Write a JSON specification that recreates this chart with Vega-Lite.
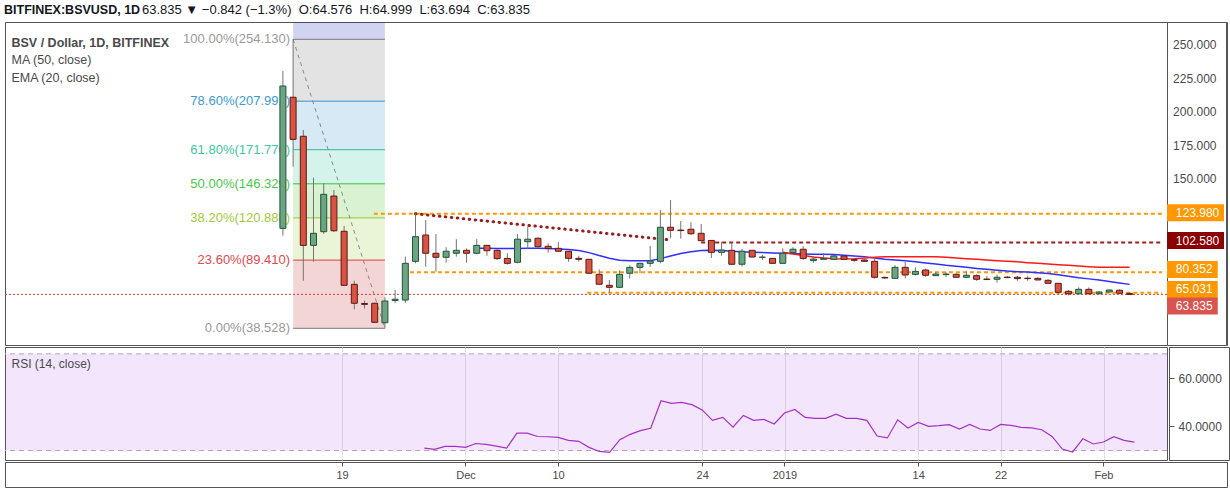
{
  "$schema": "https://vega.github.io/schema/vega-lite/v6.json",
  "background": "white",
  "padding": {"left": 4, "top": 3, "right": 2, "bottom": 2},
  "title": {"text": "BITFINEX:BSVUSD, 1D", "anchor": "start", "fontSize": 12.5, "fontWeight": "bold", "color": "#131722", "font": "Liberation Sans", "offset": -13},
  "config": {"view": {"stroke": "#555555", "strokeWidth": 1}, "font": "Liberation Sans"},
  "datasets": {
    "candles": [
      {"date":"2018-11-13","open":113.1,"high":230.5,"low":107.6,"close":219.3},
      {"date":"2018-11-14","open":210.9,"high":254.13,"low":159.1,"close":179.5},
      {"date":"2018-11-15","open":181.8,"high":186.5,"low":74.0,"close":100.4},
      {"date":"2018-11-16","open":100.4,"high":150.9,"low":88.2,"close":109.4},
      {"date":"2018-11-17","open":110.6,"high":146.7,"low":108.9,"close":138.5},
      {"date":"2018-11-18","open":137.2,"high":141.7,"low":110.4,"close":111.3},
      {"date":"2018-11-19","open":110.9,"high":114.9,"low":70.2,"close":70.6},
      {"date":"2018-11-20","open":71.3,"high":74.0,"low":52.7,"close":57.2},
      {"date":"2018-11-21","open":57.0,"high":59.1,"low":53.4,"close":56.4},
      {"date":"2018-11-22","open":57.2,"high":57.6,"low":42.6,"close":43.0},
      {"date":"2018-11-23","open":42.7,"high":61.6,"low":38.528,"close":58.9},
      {"date":"2018-11-24","open":59.3,"high":67.1,"low":57.6,"close":60.2},
      {"date":"2018-11-25","open":59.6,"high":92.0,"low":57.6,"close":87.0},
      {"date":"2018-11-26","open":88.5,"high":123.98,"low":87.0,"close":106.9},
      {"date":"2018-11-27","open":108.1,"high":119.3,"low":84.5,"close":94.5},
      {"date":"2018-11-28","open":94.5,"high":108.9,"low":80.8,"close":91.5},
      {"date":"2018-11-29","open":91.5,"high":99.0,"low":87.5,"close":96.0},
      {"date":"2018-11-30","open":94.5,"high":105.0,"low":92.0,"close":96.7},
      {"date":"2018-12-01","open":96.7,"high":98.2,"low":87.5,"close":94.5},
      {"date":"2018-12-02","open":94.5,"high":105.1,"low":93.7,"close":100.4},
      {"date":"2018-12-03","open":100.4,"high":100.7,"low":92.7,"close":96.4},
      {"date":"2018-12-04","open":96.7,"high":97.5,"low":89.5,"close":90.5},
      {"date":"2018-12-05","open":90.7,"high":94.5,"low":86.0,"close":87.0},
      {"date":"2018-12-06","open":87.8,"high":108.9,"low":87.0,"close":105.0},
      {"date":"2018-12-07","open":103.1,"high":114.3,"low":97.5,"close":105.0},
      {"date":"2018-12-08","open":105.7,"high":106.4,"low":99.0,"close":99.4},
      {"date":"2018-12-09","open":99.7,"high":101.9,"low":95.0,"close":98.0},
      {"date":"2018-12-10","open":98.2,"high":102.9,"low":95.5,"close":96.0},
      {"date":"2018-12-11","open":96.0,"high":96.2,"low":88.2,"close":90.7},
      {"date":"2018-12-12","open":90.7,"high":92.7,"low":88.2,"close":90.0},
      {"date":"2018-12-13","open":90.0,"high":90.3,"low":79.3,"close":79.6},
      {"date":"2018-12-14","open":78.8,"high":82.5,"low":71.0,"close":71.4},
      {"date":"2018-12-15","open":70.6,"high":74.6,"low":65.03,"close":69.1},
      {"date":"2018-12-16","open":69.1,"high":81.8,"low":68.5,"close":78.8},
      {"date":"2018-12-17","open":79.6,"high":85.5,"low":75.8,"close":84.0},
      {"date":"2018-12-18","open":84.0,"high":87.5,"low":79.6,"close":87.0},
      {"date":"2018-12-19","open":87.0,"high":99.9,"low":84.5,"close":88.7},
      {"date":"2018-12-20","open":88.5,"high":126.8,"low":87.0,"close":113.9},
      {"date":"2018-12-21","open":113.9,"high":134.2,"low":105.7,"close":111.6},
      {"date":"2018-12-22","open":111.8,"high":118.6,"low":105.4,"close":111.4},
      {"date":"2018-12-23","open":112.4,"high":117.6,"low":108.1,"close":109.1},
      {"date":"2018-12-24","open":109.4,"high":116.3,"low":103.5,"close":103.9},
      {"date":"2018-12-25","open":104.1,"high":104.4,"low":91.0,"close":95.2},
      {"date":"2018-12-26","open":95.2,"high":103.1,"low":92.7,"close":96.9},
      {"date":"2018-12-27","open":96.7,"high":102.7,"low":86.0,"close":86.3},
      {"date":"2018-12-28","open":86.3,"high":97.7,"low":84.5,"close":96.0},
      {"date":"2018-12-29","open":96.7,"high":97.0,"low":91.5,"close":91.7},
      {"date":"2018-12-30","open":91.5,"high":93.4,"low":89.5,"close":91.6},
      {"date":"2018-12-31","open":90.7,"high":90.8,"low":86.8,"close":87.0},
      {"date":"2019-01-01","open":87.0,"high":98.2,"low":86.8,"close":94.5},
      {"date":"2019-01-02","open":95.0,"high":99.0,"low":94.8,"close":97.5},
      {"date":"2019-01-03","open":97.5,"high":99.9,"low":89.5,"close":90.7},
      {"date":"2019-01-04","open":89.0,"high":92.5,"low":87.5,"close":90.2},
      {"date":"2019-01-05","open":90.0,"high":94.5,"low":89.8,"close":90.7},
      {"date":"2019-01-06","open":90.0,"high":93.2,"low":89.8,"close":92.5},
      {"date":"2019-01-07","open":92.5,"high":93.0,"low":89.8,"close":90.0},
      {"date":"2019-01-08","open":89.7,"high":90.7,"low":88.2,"close":89.3},
      {"date":"2019-01-09","open":89.5,"high":90.0,"low":88.0,"close":88.5},
      {"date":"2019-01-10","open":88.5,"high":90.7,"low":75.5,"close":76.6},
      {"date":"2019-01-11","open":76.5,"high":77.0,"low":75.3,"close":76.1},
      {"date":"2019-01-12","open":75.8,"high":85.7,"low":75.5,"close":84.0},
      {"date":"2019-01-13","open":84.0,"high":88.2,"low":75.8,"close":78.3},
      {"date":"2019-01-14","open":78.8,"high":84.0,"low":78.0,"close":81.0},
      {"date":"2019-01-15","open":82.0,"high":83.0,"low":77.0,"close":78.1},
      {"date":"2019-01-16","open":77.8,"high":80.8,"low":77.5,"close":79.0},
      {"date":"2019-01-17","open":78.6,"high":80.3,"low":77.0,"close":79.0},
      {"date":"2019-01-18","open":78.8,"high":79.6,"low":76.3,"close":76.6},
      {"date":"2019-01-19","open":76.6,"high":81.0,"low":75.8,"close":78.1},
      {"date":"2019-01-20","open":77.8,"high":78.8,"low":74.0,"close":75.1},
      {"date":"2019-01-21","open":75.3,"high":77.5,"low":74.6,"close":74.9},
      {"date":"2019-01-22","open":75.1,"high":78.6,"low":72.6,"close":76.6},
      {"date":"2019-01-23","open":76.7,"high":77.5,"low":75.8,"close":76.4},
      {"date":"2019-01-24","open":76.6,"high":77.5,"low":74.0,"close":75.6},
      {"date":"2019-01-25","open":75.9,"high":77.7,"low":74.0,"close":75.6},
      {"date":"2019-01-26","open":75.8,"high":76.6,"low":74.4,"close":74.6},
      {"date":"2019-01-27","open":74.3,"high":75.3,"low":71.8,"close":72.1},
      {"date":"2019-01-28","open":72.1,"high":72.3,"low":64.3,"close":65.4},
      {"date":"2019-01-29","open":66.1,"high":67.1,"low":63.1,"close":64.3},
      {"date":"2019-01-30","open":64.3,"high":69.1,"low":63.8,"close":67.6},
      {"date":"2019-01-31","open":67.6,"high":69.1,"low":63.8,"close":64.3},
      {"date":"2019-02-01","open":64.3,"high":66.3,"low":64.0,"close":65.6},
      {"date":"2019-02-02","open":65.6,"high":67.5,"low":65.3,"close":67.1},
      {"date":"2019-02-03","open":66.9,"high":67.6,"low":64.0,"close":64.677},
      {"date":"2019-02-04","open":64.576,"high":64.999,"low":63.694,"close":63.835}
    ],
    "ema": [
      {"date":"2018-12-02","ema20":98.2},{"date":"2018-12-03","ema20":98.2},{"date":"2018-12-04","ema20":98.1},{"date":"2018-12-05","ema20":98.0},
      {"date":"2018-12-06","ema20":98.1},{"date":"2018-12-07","ema20":98.2},{"date":"2018-12-08","ema20":98.2},{"date":"2018-12-09","ema20":98.0},
      {"date":"2018-12-10","ema20":97.7},{"date":"2018-12-11","ema20":97.4},{"date":"2018-12-12","ema20":96.5},{"date":"2018-12-13","ema20":95.0},
      {"date":"2018-12-14","ema20":92.8},{"date":"2018-12-15","ema20":90.8},{"date":"2018-12-16","ema20":89.3},{"date":"2018-12-17","ema20":89.0},
      {"date":"2018-12-18","ema20":88.9},{"date":"2018-12-19","ema20":89.0},{"date":"2018-12-20","ema20":90.5},{"date":"2018-12-21","ema20":92.5},
      {"date":"2018-12-22","ema20":94.3},{"date":"2018-12-23","ema20":95.6},{"date":"2018-12-24","ema20":96.5},{"date":"2018-12-25","ema20":96.8},
      {"date":"2018-12-26","ema20":96.6},{"date":"2018-12-27","ema20":96.0},{"date":"2018-12-28","ema20":95.6},{"date":"2018-12-29","ema20":95.3},
      {"date":"2018-12-30","ema20":95.0},{"date":"2018-12-31","ema20":94.7},{"date":"2019-01-01","ema20":94.5},{"date":"2019-01-02","ema20":94.3},
      {"date":"2019-01-03","ema20":94.0},{"date":"2019-01-04","ema20":93.8},{"date":"2019-01-05","ema20":93.7},{"date":"2019-01-06","ema20":93.5},
      {"date":"2019-01-07","ema20":93.0},{"date":"2019-01-08","ema20":92.5},{"date":"2019-01-09","ema20":92.0},{"date":"2019-01-10","ema20":91.0},
      {"date":"2019-01-11","ema20":90.0},{"date":"2019-01-12","ema20":89.4},{"date":"2019-01-13","ema20":88.9},{"date":"2019-01-14","ema20":88.2},
      {"date":"2019-01-15","ema20":87.3},{"date":"2019-01-16","ema20":86.5},{"date":"2019-01-17","ema20":85.6},{"date":"2019-01-18","ema20":84.9},
      {"date":"2019-01-19","ema20":84.0},{"date":"2019-01-20","ema20":83.2},{"date":"2019-01-21","ema20":82.5},{"date":"2019-01-22","ema20":81.8},
      {"date":"2019-01-23","ema20":81.2},{"date":"2019-01-24","ema20":80.8},{"date":"2019-01-25","ema20":80.5},{"date":"2019-01-26","ema20":80.0},
      {"date":"2019-01-27","ema20":79.4},{"date":"2019-01-28","ema20":78.5},{"date":"2019-01-29","ema20":77.4},{"date":"2019-01-30","ema20":76.3},
      {"date":"2019-01-31","ema20":75.4},{"date":"2019-02-01","ema20":74.5},{"date":"2019-02-02","ema20":73.4},{"date":"2019-02-03","ema20":72.3},
      {"date":"2019-02-04","ema20":71.3}
    ],
    "ma": [
      {"date":"2019-01-01","ma50":95.2},{"date":"2019-01-02","ma50":94.0},{"date":"2019-01-03","ma50":92.8},{"date":"2019-01-04","ma50":91.8},
      {"date":"2019-01-05","ma50":91.0},{"date":"2019-01-06","ma50":90.5},{"date":"2019-01-07","ma50":90.2},{"date":"2019-01-08","ma50":90.4},
      {"date":"2019-01-09","ma50":91.0},{"date":"2019-01-10","ma50":91.6},{"date":"2019-01-11","ma50":91.9},{"date":"2019-01-12","ma50":92.0},
      {"date":"2019-01-13","ma50":92.0},{"date":"2019-01-14","ma50":92.0},{"date":"2019-01-15","ma50":92.0},{"date":"2019-01-16","ma50":91.9},
      {"date":"2019-01-17","ma50":91.6},{"date":"2019-01-18","ma50":91.0},{"date":"2019-01-19","ma50":90.5},{"date":"2019-01-20","ma50":90.0},
      {"date":"2019-01-21","ma50":89.5},{"date":"2019-01-22","ma50":89.0},{"date":"2019-01-23","ma50":88.6},{"date":"2019-01-24","ma50":88.1},
      {"date":"2019-01-25","ma50":87.5},{"date":"2019-01-26","ma50":87.0},{"date":"2019-01-27","ma50":86.5},{"date":"2019-01-28","ma50":86.0},
      {"date":"2019-01-29","ma50":85.5},{"date":"2019-01-30","ma50":85.0},{"date":"2019-01-31","ma50":84.5},{"date":"2019-02-01","ma50":84.1},
      {"date":"2019-02-02","ma50":84.0},{"date":"2019-02-03","ma50":84.0},{"date":"2019-02-04","ma50":84.0}
    ],
    "rsi": [
      {"date":"2018-11-27","rsi":31.0},{"date":"2018-11-28","rsi":30.5},{"date":"2018-11-29","rsi":31.7},{"date":"2018-11-30","rsi":31.7},
      {"date":"2018-12-01","rsi":31.3},{"date":"2018-12-02","rsi":32.9},{"date":"2018-12-03","rsi":32.5},{"date":"2018-12-04","rsi":31.8},
      {"date":"2018-12-05","rsi":31.0},{"date":"2018-12-06","rsi":37.2},{"date":"2018-12-07","rsi":37.2},{"date":"2018-12-08","rsi":35.8},
      {"date":"2018-12-09","rsi":35.7},{"date":"2018-12-10","rsi":35.4},{"date":"2018-12-11","rsi":34.2},{"date":"2018-12-12","rsi":33.8},
      {"date":"2018-12-13","rsi":31.3},{"date":"2018-12-14","rsi":29.6},{"date":"2018-12-15","rsi":29.2},{"date":"2018-12-16","rsi":34.5},
      {"date":"2018-12-17","rsi":36.7},{"date":"2018-12-18","rsi":38.2},{"date":"2018-12-19","rsi":39.2},{"date":"2018-12-20","rsi":50.6},
      {"date":"2018-12-21","rsi":49.5},{"date":"2018-12-22","rsi":49.9},{"date":"2018-12-23","rsi":49.0},{"date":"2018-12-24","rsi":46.8},
      {"date":"2018-12-25","rsi":42.5},{"date":"2018-12-26","rsi":43.7},{"date":"2018-12-27","rsi":39.7},{"date":"2018-12-28","rsi":44.5},
      {"date":"2018-12-29","rsi":42.5},{"date":"2018-12-30","rsi":42.9},{"date":"2018-12-31","rsi":41.0},{"date":"2019-01-01","rsi":45.5},
      {"date":"2019-01-02","rsi":47.0},{"date":"2019-01-03","rsi":43.7},{"date":"2019-01-04","rsi":43.3},{"date":"2019-01-05","rsi":43.3},
      {"date":"2019-01-06","rsi":45.0},{"date":"2019-01-07","rsi":43.3},{"date":"2019-01-08","rsi":43.3},{"date":"2019-01-09","rsi":42.5},
      {"date":"2019-01-10","rsi":36.0},{"date":"2019-01-11","rsi":35.2},{"date":"2019-01-12","rsi":42.7},{"date":"2019-01-13","rsi":39.3},
      {"date":"2019-01-14","rsi":41.6},{"date":"2019-01-15","rsi":40.0},{"date":"2019-01-16","rsi":40.3},{"date":"2019-01-17","rsi":40.7},
      {"date":"2019-01-18","rsi":38.9},{"date":"2019-01-19","rsi":40.8},{"date":"2019-01-20","rsi":38.9},{"date":"2019-01-21","rsi":38.3},
      {"date":"2019-01-22","rsi":40.8},{"date":"2019-01-23","rsi":40.4},{"date":"2019-01-24","rsi":39.6},{"date":"2019-01-25","rsi":39.4},
      {"date":"2019-01-26","rsi":38.6},{"date":"2019-01-27","rsi":35.8},{"date":"2019-01-28","rsi":30.6},{"date":"2019-01-29","rsi":29.4},
      {"date":"2019-01-30","rsi":34.9},{"date":"2019-01-31","rsi":32.7},{"date":"2019-02-01","rsi":33.5},{"date":"2019-02-02","rsi":35.7},
      {"date":"2019-02-03","rsi":34.2},{"date":"2019-02-04","rsi":33.5}
    ],
    "fibLevels": [
      {"level":"1","price":254.13,"label":"100.00%(254.130)","start":"2018-11-14","end":"2018-11-23"},
      {"level":"0.786","price":207.991,"label":"78.60%(207.991)","start":"2018-11-14","end":"2018-11-23"},
      {"level":"0.618","price":171.77,"label":"61.80%(171.770)","start":"2018-11-14","end":"2018-11-23"},
      {"level":"0.5","price":146.329,"label":"50.00%(146.329)","start":"2018-11-14","end":"2018-11-23"},
      {"level":"0.382","price":120.888,"label":"38.20%(120.888)","start":"2018-11-14","end":"2018-11-23"},
      {"level":"0.236","price":89.41,"label":"23.60%(89.410)","start":"2018-11-14","end":"2018-11-23"},
      {"level":"0","price":38.528,"label":"0.00%(38.528)","start":"2018-11-14","end":"2018-11-23"}
    ],
    "fibBands": [
      {"band":"1-1.618","lo":254.13,"hi":387.4,"start":"2018-11-14","end":"2018-11-23"},
      {"band":"0.786-1","lo":207.991,"hi":254.13,"start":"2018-11-14","end":"2018-11-23"},
      {"band":"0.618-0.786","lo":171.77,"hi":207.991,"start":"2018-11-14","end":"2018-11-23"},
      {"band":"0.5-0.618","lo":146.329,"hi":171.77,"start":"2018-11-14","end":"2018-11-23"},
      {"band":"0.382-0.5","lo":120.888,"hi":146.329,"start":"2018-11-14","end":"2018-11-23"},
      {"band":"0.236-0.382","lo":89.41,"hi":120.888,"start":"2018-11-14","end":"2018-11-23"},
      {"band":"0-0.236","lo":38.528,"hi":89.41,"start":"2018-11-14","end":"2018-11-23"}
    ],
    "fibDiag": [
      {"date":"2018-11-14","price":254.13},
      {"date":"2018-11-23","price":38.528}
    ],
    "hlines": [
      {"price":123.98,"kind":"level","start":"2018-11-21T22:00:00Z","end":"2019-02-07T04:05:00Z"},
      {"price":80.352,"kind":"level","start":"2018-11-25T11:00:00Z","end":"2019-02-07T04:05:00Z"},
      {"price":65.031,"kind":"level","start":"2018-12-12T20:00:00Z","end":"2019-02-07T04:05:00Z"},
      {"price":102.58,"kind":"trend","start":"2018-12-24T00:00:00Z","end":"2019-02-07T04:05:00Z"}
    ],
    "trend": [
      {"date":"2018-11-26","price":123.98},
      {"date":"2018-12-21","price":104.4}
    ],
    "tags": [
      {"price":123.98,"kind":"level","label":"123.980"},
      {"price":102.58,"kind":"trend","label":"102.580"},
      {"price":80.352,"kind":"level","label":"80.352"},
      {"price":65.031,"kind":"level","label":"65.031"},
      {"price":63.835,"kind":"last","label":"63.835"}
    ]
  },
  "spacing": 0,
  "vconcat": [
    {
      "spacing": 0,
      "bounds": "flush",
      "title": {"text": "63.835 ▼ −0.842 (−1.3%)\u00a0\u00a0O:64.576\u00a0\u00a0H:64.999\u00a0\u00a0L:63.694\u00a0\u00a0C:63.835", "anchor": "start", "dx": 138, "fontSize": 13, "fontWeight": "normal", "color": "#131722", "font": "Liberation Sans", "offset": 5},
      "hconcat": [
        {
          "width": 1162,
          "height": 323,
          "title": {"text": "BSV / Dollar, 1D, BITFINEX", "subtitle": ["MA (50, close)", "EMA (20, close)"], "anchor": "start", "offset": -62, "dx": 7, "fontSize": 12.5, "fontWeight": "bold", "color": "#4a4a4a", "font": "Liberation Sans", "subtitleFont": "Liberation Sans", "subtitleFontSize": 12.5, "subtitleColor": "#4a4a4a", "subtitleLineHeight": 18, "subtitlePadding": 4},
          "resolve": {"scale": {"color": "independent", "fill": "independent", "stroke": "independent"}},
          "layer": [
            {
              "data": {"name": "fibBands"},
              "mark": {"type": "rect", "fillOpacity": 0.2, "clip": true},
              "encoding": {
                "x": {"field": "start", "type": "temporal", "scale": {"type": "utc", "domain": [{"year":2018,"month":10,"date":17,"hours":6,"utc":true},{"year":2019,"month":2,"date":7,"hours":4,"minutes":5,"utc":true}]}, "axis": null},
                "x2": {"field": "end"},
                "y": {"field": "lo", "type": "quantitative", "scale": {"domain": [26.07, 267.04], "nice": false, "zero": false}, "axis": null},
                "y2": {"field": "hi"},
                "fill": {"field": "band", "type": "nominal", "legend": null, "scale": {"domain": ["1-1.618","0.786-1","0.618-0.786","0.5-0.618","0.382-0.5","0.236-0.382","0-0.236"], "range": ["#1923be","#737373","#3291cd","#28c396","#41be1e","#96c832","#c82d2d"]}}
              }
            },
            {
              "data": {"name": "fibLevels"},
              "mark": {"type": "rule", "strokeWidth": 1},
              "encoding": {
                "x": {"field": "start", "type": "temporal", "scale": {"type": "utc", "domain": [{"year":2018,"month":10,"date":17,"hours":6,"utc":true},{"year":2019,"month":2,"date":7,"hours":4,"minutes":5,"utc":true}]}, "axis": null},
                "x2": {"field": "end"},
                "y": {"field": "price", "type": "quantitative", "scale": {"domain": [26.07, 267.04], "nice": false, "zero": false}, "axis": null},
                "color": {"field": "level", "type": "nominal", "legend": null, "scale": {"domain": ["1","0.786","0.618","0.5","0.382","0.236","0"], "range": ["#787878","#3d8fcc","#2fb893","#3cc23c","#95c737","#df3f3f","#787878"]}}
              }
            },
            {
              "data": {"name": "fibDiag"},
              "mark": {"type": "line", "color": "#8a8a8a", "strokeWidth": 1, "strokeDash": [4, 4]},
              "encoding": {
                "x": {"field": "date", "type": "temporal", "scale": {"type": "utc", "domain": [{"year":2018,"month":10,"date":17,"hours":6,"utc":true},{"year":2019,"month":2,"date":7,"hours":4,"minutes":5,"utc":true}]}, "axis": null},
                "y": {"field": "price", "type": "quantitative", "scale": {"domain": [26.07, 267.04], "nice": false, "zero": false}, "axis": null}
              }
            },
            {
              "data": {"name": "tags"},
              "transform": [{"filter": "datum.kind == 'last'"}],
              "mark": {"type": "rule", "color": "#e53935", "strokeWidth": 1, "strokeDash": [2, 2]},
              "encoding": {
                "y": {"field": "price", "type": "quantitative", "scale": {"domain": [26.07, 267.04], "nice": false, "zero": false}, "axis": null}
              }
            },
            {
              "data": {"name": "hlines"},
              "mark": {"type": "rule", "strokeWidth": 2, "strokeDash": [4, 3]},
              "encoding": {
                "x": {"field": "start", "type": "temporal", "scale": {"type": "utc", "domain": [{"year":2018,"month":10,"date":17,"hours":6,"utc":true},{"year":2019,"month":2,"date":7,"hours":4,"minutes":5,"utc":true}]}, "axis": null},
                "x2": {"field": "end"},
                "y": {"field": "price", "type": "quantitative", "scale": {"domain": [26.07, 267.04], "nice": false, "zero": false}, "axis": null},
                "color": {"field": "kind", "type": "nominal", "legend": null, "scale": {"domain": ["level", "trend"], "range": ["#ff9800", "#a11d1d"]}}
              }
            },
            {
              "data": {"name": "trend"},
              "mark": {"type": "line", "color": "#9b1c1c", "strokeWidth": 3, "strokeDash": [0.5, 5.5], "strokeCap": "round"},
              "encoding": {
                "x": {"field": "date", "type": "temporal", "scale": {"type": "utc", "domain": [{"year":2018,"month":10,"date":17,"hours":6,"utc":true},{"year":2019,"month":2,"date":7,"hours":4,"minutes":5,"utc":true}]}, "axis": null},
                "y": {"field": "price", "type": "quantitative", "scale": {"domain": [26.07, 267.04], "nice": false, "zero": false}, "axis": null}
              }
            },
            {
              "data": {"name": "ema"},
              "mark": {"type": "line", "color": "#2f2fff", "strokeWidth": 1.5},
              "encoding": {
                "x": {"field": "date", "type": "temporal", "scale": {"type": "utc", "domain": [{"year":2018,"month":10,"date":17,"hours":6,"utc":true},{"year":2019,"month":2,"date":7,"hours":4,"minutes":5,"utc":true}]}, "axis": null},
                "y": {"field": "ema20", "type": "quantitative", "scale": {"domain": [26.07, 267.04], "nice": false, "zero": false}, "axis": null}
              }
            },
            {
              "data": {"name": "ma"},
              "mark": {"type": "line", "color": "#ff1a1a", "strokeWidth": 1.5},
              "encoding": {
                "x": {"field": "date", "type": "temporal", "scale": {"type": "utc", "domain": [{"year":2018,"month":10,"date":17,"hours":6,"utc":true},{"year":2019,"month":2,"date":7,"hours":4,"minutes":5,"utc":true}]}, "axis": null},
                "y": {"field": "ma50", "type": "quantitative", "scale": {"domain": [26.07, 267.04], "nice": false, "zero": false}, "axis": null}
              }
            },
            {
              "data": {"name": "fibLevels"},
              "mark": {"type": "text", "align": "right", "baseline": "middle", "dx": -3, "fontSize": 13, "font": "Liberation Sans"},
              "encoding": {
                "x": {"field": "start", "type": "temporal", "scale": {"type": "utc", "domain": [{"year":2018,"month":10,"date":17,"hours":6,"utc":true},{"year":2019,"month":2,"date":7,"hours":4,"minutes":5,"utc":true}]}, "axis": null},
                "y": {"field": "price", "type": "quantitative", "scale": {"domain": [26.07, 267.04], "nice": false, "zero": false}, "axis": null},
                "text": {"field": "label"},
                "color": {"field": "level", "type": "nominal", "legend": null, "scale": {"domain": ["1","0.786","0.618","0.5","0.382","0.236","0"], "range": ["#9a9a9a","#3d9ad6","#3cc9a0","#4ac84a","#a0cc3a","#e04a4a","#9a9a9a"]}}
              }
            },
            {
              "data": {"name": "candles"},
              "mark": {"type": "rule", "color": "#737375", "strokeWidth": 1},
              "encoding": {
                "x": {"field": "date", "type": "temporal", "scale": {"type": "utc", "domain": [{"year":2018,"month":10,"date":17,"hours":6,"utc":true},{"year":2019,"month":2,"date":7,"hours":4,"minutes":5,"utc":true}]}, "axis": null},
                "y": {"field": "low", "type": "quantitative", "scale": {"domain": [26.07, 267.04], "nice": false, "zero": false}, "axis": null},
                "y2": {"field": "high"}
              }
            },
            {
              "data": {"name": "candles"},
              "mark": {"type": "bar", "size": 6, "strokeWidth": 1},
              "encoding": {
                "x": {"field": "date", "type": "temporal", "scale": {"type": "utc", "domain": [{"year":2018,"month":10,"date":17,"hours":6,"utc":true},{"year":2019,"month":2,"date":7,"hours":4,"minutes":5,"utc":true}]},
                  "axis": {"grid": true, "gridColor": "#e4e4e4", "labels": false, "ticks": false, "domain": false, "title": null,
                    "values": [{"year":2018,"month":11,"date":19,"utc":true},{"year":2018,"month":12,"date":1,"utc":true},{"year":2018,"month":12,"date":10,"utc":true},{"year":2018,"month":12,"date":24,"utc":true},{"year":2019,"month":1,"date":1,"utc":true},{"year":2019,"month":1,"date":14,"utc":true},{"year":2019,"month":1,"date":22,"utc":true},{"year":2019,"month":2,"date":1,"utc":true}]}},
                "y": {"field": "open", "type": "quantitative", "scale": {"domain": [26.07, 267.04], "nice": false, "zero": false},
                  "axis": {"orient": "right", "grid": true, "gridColor": "#e4e4e4", "labels": false, "ticks": true, "tickSize": 5, "tickColor": "#555555", "domain": false, "title": null, "values": [50, 75, 100, 125, 150, 175, 200, 225, 250]}},
                "y2": {"field": "close"},
                "fill": {"condition": {"test": "datum.close >= datum.open", "value": "#6ba583"}, "value": "#d75442"},
                "stroke": {"condition": {"test": "datum.close >= datum.open", "value": "#225437"}, "value": "#5b1a13"}
              }
            }
          ]
        },
        {
          "width": 59,
          "height": 323,
          "layer": [
            {
              "data": {"name": "tags"},
              "transform": [{"filter": "datum.price > 100"}],
              "mark": {"type": "bar", "size": 17},
              "encoding": {
                "x": {"datum": 0, "type": "quantitative", "scale": {"domain": [0, 1]}, "axis": null},
                "x2": {"datum": 0.966},
                "y": {"field": "price", "type": "quantitative", "scale": {"domain": [26.07, 267.04], "nice": false, "zero": false}, "axis": null},
                "color": {"field": "kind", "type": "nominal", "legend": null, "scale": {"domain": ["level", "trend", "last"], "range": ["#ff9800", "#8b0000", "#d9534f"]}}
              }
            },
            {
              "data": {"name": "tags"},
              "transform": [{"filter": "datum.price < 100 && datum.kind != 'last'"}],
              "mark": {"type": "bar", "size": 17},
              "encoding": {
                "x": {"datum": 0, "type": "quantitative", "scale": {"domain": [0, 1]}, "axis": null},
                "x2": {"datum": 0.86},
                "y": {"field": "price", "type": "quantitative", "scale": {"domain": [26.07, 267.04], "nice": false, "zero": false}, "axis": null},
                "color": {"field": "kind", "type": "nominal", "legend": null, "scale": {"domain": ["level", "trend", "last"], "range": ["#ff9800", "#8b0000", "#d9534f"]}}
              }
            },
            {
              "data": {"name": "tags"},
              "transform": [{"filter": "datum.kind == 'last'"}],
              "mark": {"type": "bar", "size": 17, "yOffset": 15},
              "encoding": {
                "x": {"datum": 0, "type": "quantitative", "scale": {"domain": [0, 1]}, "axis": null},
                "x2": {"datum": 0.86},
                "y": {"field": "price", "type": "quantitative", "scale": {"domain": [26.07, 267.04], "nice": false, "zero": false}, "axis": null},
                "color": {"field": "kind", "type": "nominal", "legend": null, "scale": {"domain": ["level", "trend", "last"], "range": ["#ff9800", "#8b0000", "#d9534f"]}}
              }
            },
            {
              "data": {"name": "tags"},
              "transform": [{"filter": "datum.kind != 'last'"}],
              "mark": {"type": "text", "align": "left", "baseline": "middle", "color": "white", "fontSize": 12, "font": "Liberation Sans"},
              "encoding": {
                "x": {"datum": 0.15, "type": "quantitative", "scale": {"domain": [0, 1]}, "axis": null},
                "y": {"field": "price", "type": "quantitative", "scale": {"domain": [26.07, 267.04], "nice": false, "zero": false}, "axis": null},
                "text": {"field": "label"}
              }
            },
            {
              "data": {"name": "tags"},
              "transform": [{"filter": "datum.kind == 'last'"}],
              "mark": {"type": "text", "align": "left", "baseline": "middle", "color": "white", "fontSize": 12, "font": "Liberation Sans", "yOffset": 15},
              "encoding": {
                "x": {"datum": 0.15, "type": "quantitative", "scale": {"domain": [0, 1]}, "axis": null},
                "y": {"field": "price", "type": "quantitative", "scale": {"domain": [26.07, 267.04], "nice": false, "zero": false}, "axis": null},
                "text": {"field": "label"}
              }
            }
          ]
        },
        {
          "width": 1,
          "height": 323,
          "data": {"values": [{"v": 150}, {"v": 175}, {"v": 200}, {"v": 225}, {"v": 250}]},
          "mark": {"type": "rule", "strokeOpacity": 0},
          "encoding": {
            "y": {"field": "v", "type": "quantitative", "scale": {"domain": [26.07, 267.04], "nice": false, "zero": false},
              "axis": {"orient": "left", "title": null, "grid": false, "values": [150, 175, 200, 225, 250], "format": ".3f", "labelOverlap": false, "ticks": false, "domain": false, "labelColor": "#4a4a4a", "labelFontSize": 12, "labelFont": "Liberation Sans", "labelPadding": 10}}
          }
        }
      ]
    },
    {
      "spacing": 0,
      "hconcat": [
        {
          "width": 1162,
          "height": 113,
          "title": {"text": "RSI (14, close)", "anchor": "start", "offset": -24, "dx": 7, "fontSize": 12, "fontWeight": "normal", "color": "#4a4a4a", "font": "Liberation Sans"},
          "layer": [
            {
              "data": {"values": [{"lo": 30, "hi": 70}]},
              "mark": {"type": "rect", "fill": "#9b2fe6", "fillOpacity": 0.12},
              "encoding": {
                "y": {"field": "lo", "type": "quantitative", "scale": {"domain": [26.07, 72.84], "nice": false, "zero": false}, "axis": null},
                "y2": {"field": "hi"}
              }
            },
            {
              "data": {"values": [{"v": 30}, {"v": 70}]},
              "mark": {"type": "rule", "color": "#b3a3bf", "strokeWidth": 1, "strokeDash": [5, 4]},
              "encoding": {
                "y": {"field": "v", "type": "quantitative", "scale": {"domain": [26.07, 72.84], "nice": false, "zero": false}, "axis": null}
              }
            },
            {
              "data": {"name": "rsi"},
              "mark": {"type": "line", "color": "#a530c5", "strokeWidth": 1.2},
              "encoding": {
                "x": {"field": "date", "type": "temporal", "scale": {"type": "utc", "domain": [{"year":2018,"month":10,"date":17,"hours":6,"utc":true},{"year":2019,"month":2,"date":7,"hours":4,"minutes":5,"utc":true}]},
                  "axis": {"grid": true, "gridColor": "#e2e2e2", "labels": false, "ticks": false, "domain": false, "title": null,
                    "values": [{"year":2018,"month":11,"date":19,"utc":true},{"year":2018,"month":12,"date":1,"utc":true},{"year":2018,"month":12,"date":10,"utc":true},{"year":2018,"month":12,"date":24,"utc":true},{"year":2019,"month":1,"date":1,"utc":true},{"year":2019,"month":1,"date":14,"utc":true},{"year":2019,"month":1,"date":22,"utc":true},{"year":2019,"month":2,"date":1,"utc":true}]}},
                "y": {"field": "rsi", "type": "quantitative", "scale": {"domain": [26.07, 72.84], "nice": false, "zero": false},
                  "axis": {"orient": "right", "grid": true, "gridColor": "#dcd0e8", "labels": false, "ticks": false, "domain": false, "title": null, "values": [40, 60]}}
              }
            }
          ]
        },
        {
          "width": 60,
          "height": 113,
          "data": {"values": [{"v": 40}, {"v": 60}]},
          "mark": {"type": "rule", "strokeOpacity": 0},
          "encoding": {
            "y": {"field": "v", "type": "quantitative", "scale": {"domain": [26.07, 72.84], "nice": false, "zero": false},
              "axis": {"orient": "right", "offset": -60, "title": null, "grid": false, "values": [40, 60], "format": ".4f", "labelOverlap": false, "tickSize": 5, "tickColor": "#555555", "domainColor": "#555555", "labelColor": "#4a4a4a", "labelFontSize": 12, "labelFont": "Liberation Sans", "labelPadding": 4}}
          }
        }
      ]
    },
    {
      "width": 1222,
      "height": 25,
      "data": {"name": "candles"},
      "mark": {"type": "rule", "strokeOpacity": 0},
      "encoding": {
        "x": {"field": "date", "type": "temporal", "scale": {"type": "utc", "domain": [{"year":2018,"month":10,"date":17,"hours":6,"utc":true},{"year":2019,"month":2,"date":13,"minutes":7,"utc":true}]},
          "axis": {"orient": "bottom", "offset": -25, "title": null, "grid": false, "domain": false, "tickSize": 4, "tickColor": "#555555", "labelColor": "#4a4a4a", "labelFontSize": 11, "labelFont": "Liberation Sans", "labelPadding": 3,
            "values": [{"year":2018,"month":11,"date":19,"utc":true},{"year":2018,"month":12,"date":1,"utc":true},{"year":2018,"month":12,"date":10,"utc":true},{"year":2018,"month":12,"date":24,"utc":true},{"year":2019,"month":1,"date":1,"utc":true},{"year":2019,"month":1,"date":14,"utc":true},{"year":2019,"month":1,"date":22,"utc":true},{"year":2019,"month":2,"date":1,"utc":true}],
            "labelExpr": "utcdate(datum.value) == 1 ? (utcmonth(datum.value) == 0 ? '2019' : utcFormat(datum.value, '%b')) : '' + utcdate(datum.value)"}}
      }
    }
  ]
}
